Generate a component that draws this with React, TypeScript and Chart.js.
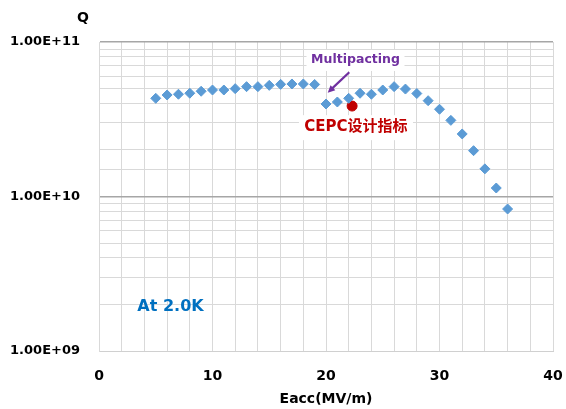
import React, { useEffect, useRef } from 'react';
import { Chart, registerables } from 'chart.js';

Chart.register(...registerables);

// Measured data at 2.0K
const eacc = [5, 6, 7, 8, 9, 10, 11, 12, 13, 14, 15, 16, 17, 18, 19, 20, 21, 22, 23, 24, 25, 26, 27, 28, 29, 30, 31, 32, 33, 34, 35, 36];
const q0 = [
  4.32e10, 4.54e10, 4.59e10, 4.66e10, 4.8e10, 4.89e10, 4.89e10, 4.99e10, 5.14e10, 5.14e10,
  5.24e10, 5.32e10, 5.35e10, 5.35e10, 5.31e10, 3.97e10, 4.09e10, 4.32e10, 4.66e10, 4.59e10,
  4.89e10, 5.14e10, 4.96e10, 4.64e10, 4.17e10, 3.67e10, 3.11e10, 2.54e10, 1.98e10, 1.51e10,
  1.135e10, 8.3e9,
];
// CEPC design goal
const cepcEacc = [22.3];
const cepcQ = [3.85e10];

const xMin = 0;
const xMax = 40;
const xLabelTicks = [0, 10, 20, 30, 40];
const yMin = 1e9;
const yMax = 1e11;

const FONT = '"DejaVu Sans", sans-serif';

const isDecade = (v: number) => {
  const lg = Math.log10(v);
  return Math.abs(lg - Math.round(lg)) < 1e-9;
};

const annotations = {
  id: 'annotations',
  beforeDatasetsDraw(chart: any) {
    const { ctx, chartArea, scales } = chart;
    const x = scales.x;
    const y = scales.y;
    ctx.save();
    ctx.textAlign = 'center';
    ctx.textBaseline = 'middle';

    // Multipacting label
    const mx = x.getPixelForValue(22.6);
    const my = y.getPixelForValue(7.65e10);
    ctx.fillStyle = '#ffffff';
    ctx.fillRect(mx - 49, my - 10, 98, 21);
    ctx.font = `bold 12.5px ${FONT}`;
    ctx.fillStyle = '#7030A0';
    ctx.fillText('Multipacting', mx, my);

    // arrow
    const ax1 = x.getPixelForValue(22.05);
    const ay1 = y.getPixelForValue(6.37e10);
    const ax2 = x.getPixelForValue(20.15);
    const ay2 = y.getPixelForValue(4.7e10);
    const ang = Math.atan2(ay2 - ay1, ax2 - ax1);
    ctx.strokeStyle = '#7030A0';
    ctx.lineWidth = 2.2;
    ctx.beginPath();
    ctx.moveTo(ax1, ay1);
    ctx.lineTo(ax2 - 4 * Math.cos(ang), ay2 - 4 * Math.sin(ang));
    ctx.stroke();
    ctx.beginPath();
    ctx.moveTo(ax2, ay2);
    ctx.lineTo(ax2 - 8 * Math.cos(ang - 0.45), ay2 - 8 * Math.sin(ang - 0.45));
    ctx.lineTo(ax2 - 8 * Math.cos(ang + 0.45), ay2 - 8 * Math.sin(ang + 0.45));
    ctx.closePath();
    ctx.fillStyle = '#7030A0';
    ctx.fill();

    // CEPC label
    const cx = x.getPixelForValue(22.64);
    const cy = y.getPixelForValue(2.81e10);
    ctx.fillStyle = '#ffffff';
    ctx.fillRect(cx - 57, cy - 12, 114, 25);
    ctx.font = `bold 15px ${FONT}, "Noto Sans CJK SC"`;
    ctx.fillStyle = '#C00000';
    ctx.fillText('CEPC设计指标', cx, cy);

    // At 2.0K
    ctx.font = `bold 16px ${FONT}`;
    ctx.fillStyle = '#0070C0';
    ctx.fillText('At 2.0K', x.getPixelForValue(6.3), y.getPixelForValue(1.94e9));

    // Q axis title
    ctx.font = `bold 14px ${FONT}`;
    ctx.fillStyle = '#000000';
    ctx.fillText('Q', chartArea.left - 16, chartArea.top - 24);
    ctx.restore();
  },
};

export default function App() {
  const ref = useRef<HTMLCanvasElement | null>(null);

  useEffect(() => {
    if (!ref.current) return;
    const chart = new Chart(ref.current, {
      type: 'scatter',
      data: {
        datasets: [
          {
            label: 'Q0',
            data: eacc.map((e, i) => ({ x: e, y: q0[i] })),
            pointStyle: 'rectRot',
            pointRadius: 5,
            pointBorderWidth: 1,
            backgroundColor: '#5B9BD5',
            borderColor: '#5B9BD5',
            showLine: false,
          },
          {
            label: 'CEPC',
            data: cepcEacc.map((e, i) => ({ x: e, y: cepcQ[i] })),
            pointStyle: 'circle',
            pointRadius: 5,
            pointBorderWidth: 1,
            backgroundColor: '#C00000',
            borderColor: '#C00000',
            showLine: false,
          },
        ],
      },
      options: {
        responsive: false,
        animation: false,
        layout: { padding: { top: 42, right: 13, left: 0, bottom: 0 } },
        plugins: {
          legend: { display: false },
          tooltip: { enabled: false },
          title: { display: false },
        },
        scales: {
          x: {
            type: 'linear',
            min: xMin,
            max: xMax,
            afterFit: (s: any) => {
              s.height = 58;
              s.paddingLeft = 0;
              s.paddingRight = 0;
            },
            ticks: {
              stepSize: 2,
              autoSkip: false,
              maxRotation: 0,
              padding: 17,
              color: '#000000',
              font: { family: FONT, weight: 'bold', size: 14 },
              callback: (v: any) => (xLabelTicks.includes(Number(v)) ? String(v) : ''),
            },
            grid: { color: '#D9D9D9', drawTicks: false, lineWidth: 1 },
            border: { display: true, color: '#D0D0D0' },
            title: {
              display: true,
              text: 'Eacc(MV/m)',
              color: '#000000',
              font: { family: FONT, weight: 'bold', size: 14 },
              padding: { top: 0, bottom: 1 },
            },
          },
          y: {
            type: 'logarithmic',
            min: yMin,
            max: yMax,
            afterFit: (s: any) => {
              s.width = 99;
            },
            ticks: {
              autoSkip: false,
              padding: 19,
              color: '#000000',
              font: { family: FONT, weight: 'bold', size: 13 },
              callback: (v: any) => {
                const n = Number(v);
                if (!isDecade(n)) return '';
                return '1.00E+' + String(Math.round(Math.log10(n))).padStart(2, '0');
              },
            },
            grid: {
              drawTicks: false,
              color: (c: any) => {
                const v = c.tick ? c.tick.value : 0;
                if (isDecade(v) && v > yMin) return '#A6A6A6';
                return '#D9D9D9';
              },
              lineWidth: (c: any) => {
                const v = c.tick ? c.tick.value : 0;
                return isDecade(v) && v > yMin ? 1.5 : 1;
              },
            },
            border: { display: true, color: '#D9D9D9' },
          },
        },
      },
      plugins: [annotations],
    });
    return () => chart.destroy();
  }, []);

  return (
    <div style={{ position: 'fixed', left: 0, top: 0, width: 566, height: 409, background: '#ffffff' }}>
      <canvas ref={ref} width={566} height={409} style={{ display: 'block', width: 566, height: 409 }} />
    </div>
  );
}
